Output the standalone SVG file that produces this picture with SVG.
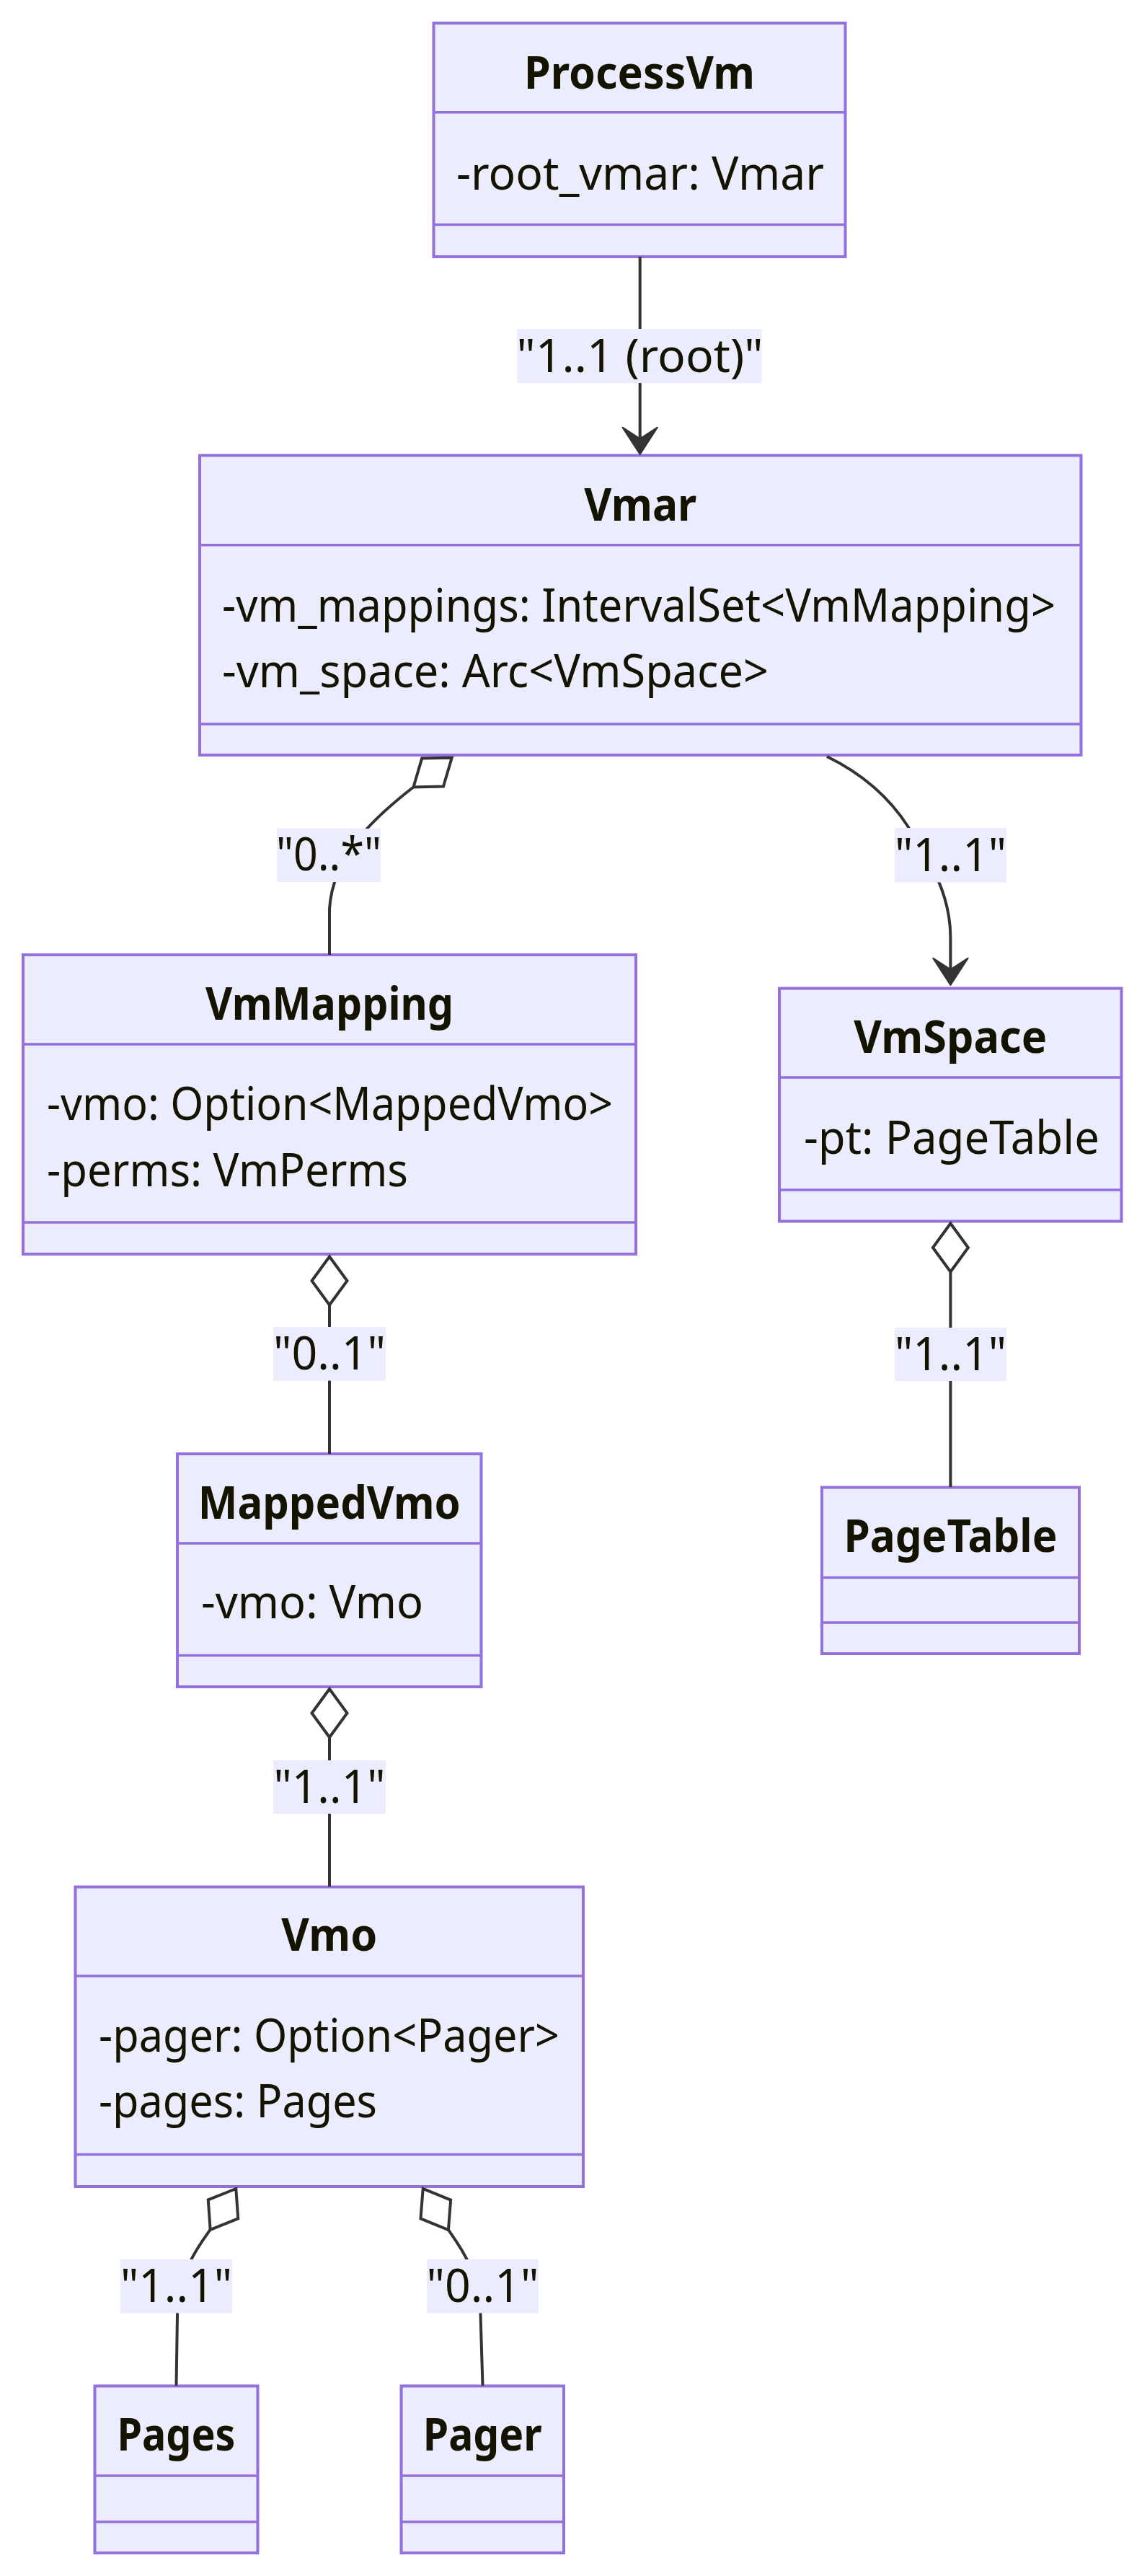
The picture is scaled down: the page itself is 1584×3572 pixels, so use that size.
<svg xmlns="http://www.w3.org/2000/svg" width="1584" height="3572" viewBox="0 0 1584 3572">
<style>
.box{fill:#ECECFF;stroke:#9370DB;stroke-width:4}
.div{stroke:#9370DB;stroke-width:3.5;fill:none}
.t{font-family:"Noto Sans","Open Sans",sans-serif;font-size:63px;fill:#131300}
.title{font-weight:bold;text-anchor:middle}
.edge{fill:none;stroke:#333333;stroke-width:4}
.lblbg{fill:#ECECFF}
.lbl{text-anchor:middle}
.dia{fill:#FFFFFF;stroke:#333333;stroke-width:4;stroke-linejoin:miter}
.arr{fill:#333333;stroke:#333333;stroke-width:2;stroke-linejoin:round}
</style>
<defs>
<path id="diamond" d="M0,0 L-33.5,-24.5 L-67,0 L-33.5,24.5 Z"/>
<path id="arrowhead" d="M0,0 L-37.3,-24.2 L-21.7,0 L-37.3,24.2 Z"/>
</defs>
<rect width="1584" height="3572" fill="#FFFFFF"/>

<g id="nodes">
<g id="ProcessVm">
<rect class="box" x="601.5" y="32" width="571" height="324"/>
<line class="div" x1="601.5" y1="155.7" x2="1172.5" y2="155.7"/>
<line class="div" x1="601.5" y1="311.4" x2="1172.5" y2="311.4"/>
<text class="t title" x="887" y="122.5" textLength="320" lengthAdjust="spacingAndGlyphs">ProcessVm</text>
<text class="t" x="633" y="263" textLength="510" lengthAdjust="spacingAndGlyphs">-root_vmar: Vmar</text>
</g>
<g id="Vmar">
<rect class="box" x="277" y="631.5" width="1222.5" height="415.5"/>
<line class="div" x1="277" y1="755.7" x2="1499.5" y2="755.7"/>
<line class="div" x1="277" y1="1004" x2="1499.5" y2="1004"/>
<text class="t title" x="888.25" y="721.5" textLength="156" lengthAdjust="spacingAndGlyphs">Vmar</text>
<text class="t" x="308" y="861.7" textLength="1156" lengthAdjust="spacingAndGlyphs">-vm_mappings: IntervalSet&lt;VmMapping&gt;</text>
<text class="t" x="308" y="953" textLength="758" lengthAdjust="spacingAndGlyphs">-vm_space: Arc&lt;VmSpace&gt;</text>
</g>
<g id="VmMapping">
<rect class="box" x="32" y="1324" width="850" height="415"/>
<line class="div" x1="32" y1="1448" x2="882" y2="1448"/>
<line class="div" x1="32" y1="1695" x2="882" y2="1695"/>
<text class="t title" x="457" y="1414" textLength="344" lengthAdjust="spacingAndGlyphs">VmMapping</text>
<text class="t" x="65" y="1552.5" textLength="785" lengthAdjust="spacingAndGlyphs">-vmo: Option&lt;MappedVmo&gt;</text>
<text class="t" x="65" y="1645" textLength="501" lengthAdjust="spacingAndGlyphs">-perms: VmPerms</text>
</g>
<g id="VmSpace">
<rect class="box" x="1081" y="1370.5" width="474.5" height="323"/>
<line class="div" x1="1081" y1="1494" x2="1555.5" y2="1494"/>
<line class="div" x1="1081" y1="1650" x2="1555.5" y2="1650"/>
<text class="t title" x="1318.25" y="1460" textLength="268" lengthAdjust="spacingAndGlyphs">VmSpace</text>
<text class="t" x="1115" y="1600" textLength="410" lengthAdjust="spacingAndGlyphs">-pt: PageTable</text>
</g>
<g id="PageTable">
<rect class="box" x="1140" y="2062.5" width="357" height="230.5"/>
<line class="div" x1="1140" y1="2187.5" x2="1497" y2="2187.5"/>
<line class="div" x1="1140" y1="2250" x2="1497" y2="2250"/>
<text class="t title" x="1318.5" y="2152" textLength="296" lengthAdjust="spacingAndGlyphs">PageTable</text>
</g>
<g id="MappedVmo">
<rect class="box" x="246" y="2016" width="421.5" height="323"/>
<line class="div" x1="246" y1="2140" x2="667.5" y2="2140"/>
<line class="div" x1="246" y1="2295.5" x2="667.5" y2="2295.5"/>
<text class="t title" x="456.75" y="2106" textLength="364" lengthAdjust="spacingAndGlyphs">MappedVmo</text>
<text class="t" x="279" y="2243.5" textLength="308" lengthAdjust="spacingAndGlyphs">-vmo: Vmo</text>
</g>
<g id="Vmo">
<rect class="box" x="104.5" y="2616.5" width="704.5" height="415.5"/>
<line class="div" x1="104.5" y1="2740" x2="809" y2="2740"/>
<line class="div" x1="104.5" y1="2987.5" x2="809" y2="2987.5"/>
<text class="t title" x="456.75" y="2705" textLength="133" lengthAdjust="spacingAndGlyphs">Vmo</text>
<text class="t" x="137" y="2845" textLength="639" lengthAdjust="spacingAndGlyphs">-pager: Option&lt;Pager&gt;</text>
<text class="t" x="137" y="2935.6" textLength="386" lengthAdjust="spacingAndGlyphs">-pages: Pages</text>
</g>
<g id="Pages">
<rect class="box" x="131.5" y="3308.5" width="226" height="231.5"/>
<line class="div" x1="131.5" y1="3433" x2="357.5" y2="3433"/>
<line class="div" x1="131.5" y1="3497" x2="357.5" y2="3497"/>
<text class="t title" x="244.5" y="3398" textLength="164" lengthAdjust="spacingAndGlyphs">Pages</text>
</g>
<g id="Pager">
<rect class="box" x="556.5" y="3308.5" width="225.5" height="231.5"/>
<line class="div" x1="556.5" y1="3433" x2="782" y2="3433"/>
<line class="div" x1="556.5" y1="3497" x2="782" y2="3497"/>
<text class="t title" x="669.25" y="3398" textLength="165" lengthAdjust="spacingAndGlyphs">Pager</text>
</g>
</g>

<g id="connectors">
<path class="edge" d="M887.7,356 L887.7,612"/>
<use href="#arrowhead" class="arr" transform="translate(887.7,630) rotate(90)"/>

<path class="edge" d="M572.7,1092 C520,1133 462,1185 457,1260 L457,1324"/>
<use href="#diamond" class="dia" transform="translate(626.7,1050.7) rotate(-37.4)"/>

<path class="edge" d="M1147,1049 C1190,1070 1230,1100 1260,1147 C1290,1194 1318.4,1240 1318.4,1300 L1318.4,1346"/>
<use href="#arrowhead" class="arr" transform="translate(1318.4,1366) rotate(90)"/>

<path class="edge" d="M1318.4,1763 L1318.4,2062"/>
<use href="#diamond" class="dia" transform="translate(1318.4,1696.5) rotate(-90)"/>

<path class="edge" d="M457,1809 L457,2016"/>
<use href="#diamond" class="dia" transform="translate(457,1742.5) rotate(-90)"/>

<path class="edge" d="M457,2409 L457,2616"/>
<use href="#diamond" class="dia" transform="translate(457,2342) rotate(-90)"/>

<path class="edge" d="M291.7,3091.7 C275,3115 248,3150 246,3210 L244.5,3308"/>
<use href="#diamond" class="dia" transform="translate(327.3,3035) rotate(-57.9)"/>

<path class="edge" d="M621.7,3091.7 C638,3115 665,3150 666.5,3210 L669.5,3308"/>
<use href="#diamond" class="dia" transform="translate(586.7,3035) rotate(-121.7)"/>
</g>

<g id="edge-labels">
<rect class="lblbg" x="717" y="456" width="339.5" height="75"/>
<text class="t lbl" x="887.5" y="515.5" textLength="342" lengthAdjust="spacingAndGlyphs">"1..1 (root)"</text>
<rect class="lblbg" x="384" y="1149" width="144" height="74"/>
<text class="t lbl" x="456" y="1207" textLength="146" lengthAdjust="spacingAndGlyphs">"0..*"</text>
<rect class="lblbg" x="1241" y="1148" width="155" height="75.5"/>
<text class="t lbl" x="1318.5" y="1208" textLength="155" lengthAdjust="spacingAndGlyphs">"1..1"</text>
<rect class="lblbg" x="1241" y="1841" width="155" height="74"/>
<text class="t lbl" x="1318.5" y="1900" textLength="155" lengthAdjust="spacingAndGlyphs">"1..1"</text>
<rect class="lblbg" x="379" y="1840" width="156" height="74.5"/>
<text class="t lbl" x="457" y="1899" textLength="156" lengthAdjust="spacingAndGlyphs">"0..1"</text>
<rect class="lblbg" x="379" y="2441" width="156" height="74"/>
<text class="t lbl" x="457" y="2500" textLength="155" lengthAdjust="spacingAndGlyphs">"1..1"</text>
<rect class="lblbg" x="167" y="3133" width="155" height="74.5"/>
<text class="t lbl" x="244.5" y="3191.5" textLength="155" lengthAdjust="spacingAndGlyphs">"1..1"</text>
<rect class="lblbg" x="592" y="3133" width="155" height="74.5"/>
<text class="t lbl" x="669.5" y="3191.5" textLength="156" lengthAdjust="spacingAndGlyphs">"0..1"</text>
</g>
</svg>
